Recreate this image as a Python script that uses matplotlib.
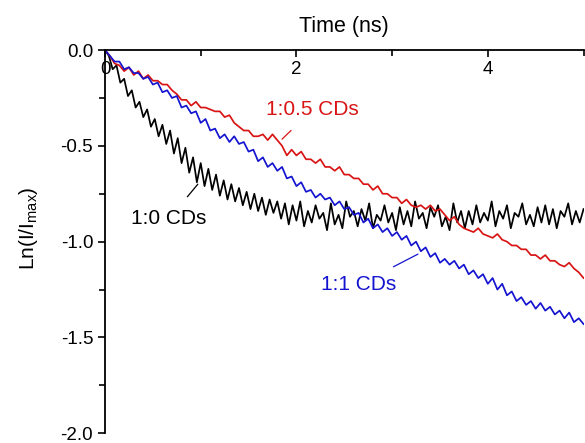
import numpy as np
import matplotlib
matplotlib.use("Agg")
import matplotlib.pyplot as plt
from matplotlib.ticker import MultipleLocator

plt.rcParams['font.family'] = ['Liberation Sans', 'DejaVu Sans']
plt.rcParams['axes.unicode_minus'] = False

t_end = 5.0

ln_10 = [0.00, -0.03, -0.10, -0.08, -0.17, -0.15, -0.24, -0.21, -0.30, -0.27,
         -0.35, -0.31, -0.40, -0.36, -0.45, -0.39, -0.49, -0.42, -0.54, -0.46,
         -0.59, -0.51, -0.64, -0.56, -0.69, -0.59, -0.71, -0.62, -0.73, -0.65,
         -0.76, -0.68, -0.78, -0.70, -0.79, -0.72, -0.81, -0.74, -0.83, -0.75,
         -0.84, -0.77, -0.86, -0.78, -0.85, -0.79, -0.88, -0.80, -0.91, -0.81,
         -0.89, -0.79, -0.92, -0.84, -0.90, -0.81, -0.88, -0.85, -0.94, -0.80,
         -0.91, -0.86, -0.93, -0.79, -0.87, -0.84, -0.92, -0.83, -0.89, -0.80,
         -0.93, -0.86, -0.89, -0.81, -0.90, -0.85, -0.94, -0.82, -0.91, -0.84,
         -0.92, -0.79, -0.88, -0.85, -0.93, -0.82, -0.87, -0.81, -0.92, -0.87,
         -0.94, -0.80, -0.90, -0.84, -0.93, -0.84, -0.91, -0.81, -0.90, -0.85,
         -0.89, -0.79, -0.92, -0.84, -0.88, -0.81, -0.93, -0.85, -0.87, -0.80,
         -0.91, -0.86, -0.92, -0.82, -0.90, -0.81, -0.91, -0.83, -0.93, -0.84,
         -0.87, -0.80, -0.91, -0.84, -0.90, -0.83]

ln_105 = [0.00, -0.03, -0.07, -0.08, -0.11, -0.09, -0.13, -0.11, -0.15, -0.13,
          -0.16, -0.16, -0.18, -0.18, -0.21, -0.23, -0.26, -0.26, -0.29, -0.27,
          -0.30, -0.30, -0.31, -0.32, -0.32, -0.35, -0.34, -0.38, -0.40, -0.42,
          -0.42, -0.45, -0.45, -0.44, -0.47, -0.44, -0.47, -0.50, -0.55, -0.52,
          -0.55, -0.53, -0.57, -0.57, -0.59, -0.57, -0.61, -0.61, -0.63, -0.61,
          -0.65, -0.65, -0.67, -0.67, -0.70, -0.70, -0.73, -0.71, -0.75, -0.75,
          -0.77, -0.77, -0.80, -0.78, -0.81, -0.82, -0.81, -0.83, -0.81, -0.84,
          -0.83, -0.86, -0.89, -0.87, -0.91, -0.93, -0.94, -0.95, -0.93, -0.96,
          -0.97, -0.98, -0.96, -0.99, -1.00, -1.02, -1.02, -1.04, -1.04, -1.07,
          -1.07, -1.09, -1.07, -1.10, -1.10, -1.12, -1.13, -1.11, -1.14, -1.16,
          -1.19]

ln_11 = [0.00, -0.03, -0.06, -0.06, -0.10, -0.09, -0.12, -0.12, -0.15, -0.14,
         -0.18, -0.17, -0.22, -0.21, -0.25, -0.24, -0.30, -0.29, -0.33, -0.32,
         -0.38, -0.36, -0.42, -0.41, -0.46, -0.44, -0.48, -0.45, -0.49, -0.48,
         -0.53, -0.52, -0.58, -0.56, -0.61, -0.59, -0.63, -0.61, -0.67, -0.66,
         -0.71, -0.69, -0.74, -0.73, -0.77, -0.75, -0.78, -0.77, -0.81, -0.79,
         -0.83, -0.82, -0.86, -0.85, -0.90, -0.88, -0.93, -0.91, -0.95, -0.93,
         -0.97, -0.95, -0.99, -0.97, -1.02, -1.00, -1.05, -1.03, -1.08, -1.06,
         -1.11, -1.09, -1.12, -1.10, -1.14, -1.12, -1.17, -1.15, -1.19, -1.17,
         -1.22, -1.19, -1.25, -1.22, -1.28, -1.26, -1.31, -1.29, -1.33, -1.31,
         -1.35, -1.32, -1.36, -1.34, -1.38, -1.36, -1.40, -1.37, -1.42, -1.40,
         -1.43]

series = [("1:0 CDs", ln_10, "black"),
          ("1:0.5 CDs", ln_105, "#d81414"),
          ("1:1 CDs", ln_11, "#1414d0")]

fig = plt.figure(figsize=(5.85, 4.43), dpi=100)
ax = fig.add_axes([0.1795, 0.022, 0.818, 0.865])

for name, y, color in series:
    t = np.linspace(0, t_end, len(y))
    ax.plot(t, y, color=color, lw=1.25)

ax.set_xlim(0, 5.0)
ax.set_ylim(-2.0, 0.0)

# x axis sits on y = 0 (top of the box), labels hang below it
ax.spines['bottom'].set_position(('data', 0))
ax.spines['top'].set_visible(False)
ax.spines['right'].set_visible(False)
for s in ['bottom', 'left']:
    ax.spines[s].set_linewidth(1.3)

ax.xaxis.set_major_locator(MultipleLocator(2))
ax.xaxis.set_minor_locator(MultipleLocator(1))
ax.yaxis.set_major_locator(MultipleLocator(0.5))
ax.yaxis.set_minor_locator(MultipleLocator(0.25))
ax.yaxis.set_major_formatter(matplotlib.ticker.FormatStrFormatter('%.1f'))
ax.tick_params(which='major', direction='out', length=5, width=1.2, labelsize=13.5)
ax.tick_params(which='minor', direction='out', length=4, width=1.2)
ax.tick_params(axis='x', pad=3)

ax.xaxis.set_label_position('top')
ax.set_xlabel("Time (ns)", fontsize=15.5, labelpad=13)
ax.set_ylabel(r"Ln(I/I$_{\mathregular{max}}$)", fontsize=15)
ax.yaxis.set_label_coords(-0.135, 0.535)

# curve labels with leader lines
ax.annotate("1:0.5 CDs", xy=(1.85, -0.465), xytext=(2.17, -0.31),
            color="#d81414", fontsize=15, ha='center', va='center',
            arrowprops=dict(arrowstyle='-', color="#d81414", lw=0.9,
                            shrinkA=9, shrinkB=0))
ax.annotate("1:0 CDs", xy=(0.97, -0.70), xytext=(0.67, -0.88),
            color="black", fontsize=15, ha='center', va='center',
            arrowprops=dict(arrowstyle='-', color="black", lw=0.9,
                            shrinkA=9, shrinkB=0))
ax.annotate("1:1 CDs", xy=(3.27, -1.065), xytext=(2.65, -1.225),
            color="#1414d0", fontsize=15, ha='center', va='center',
            arrowprops=dict(arrowstyle='-', color="#1414d0", lw=0.9,
                            shrinkA=9, shrinkB=0))

fig.savefig("out.png", dpi=100)
